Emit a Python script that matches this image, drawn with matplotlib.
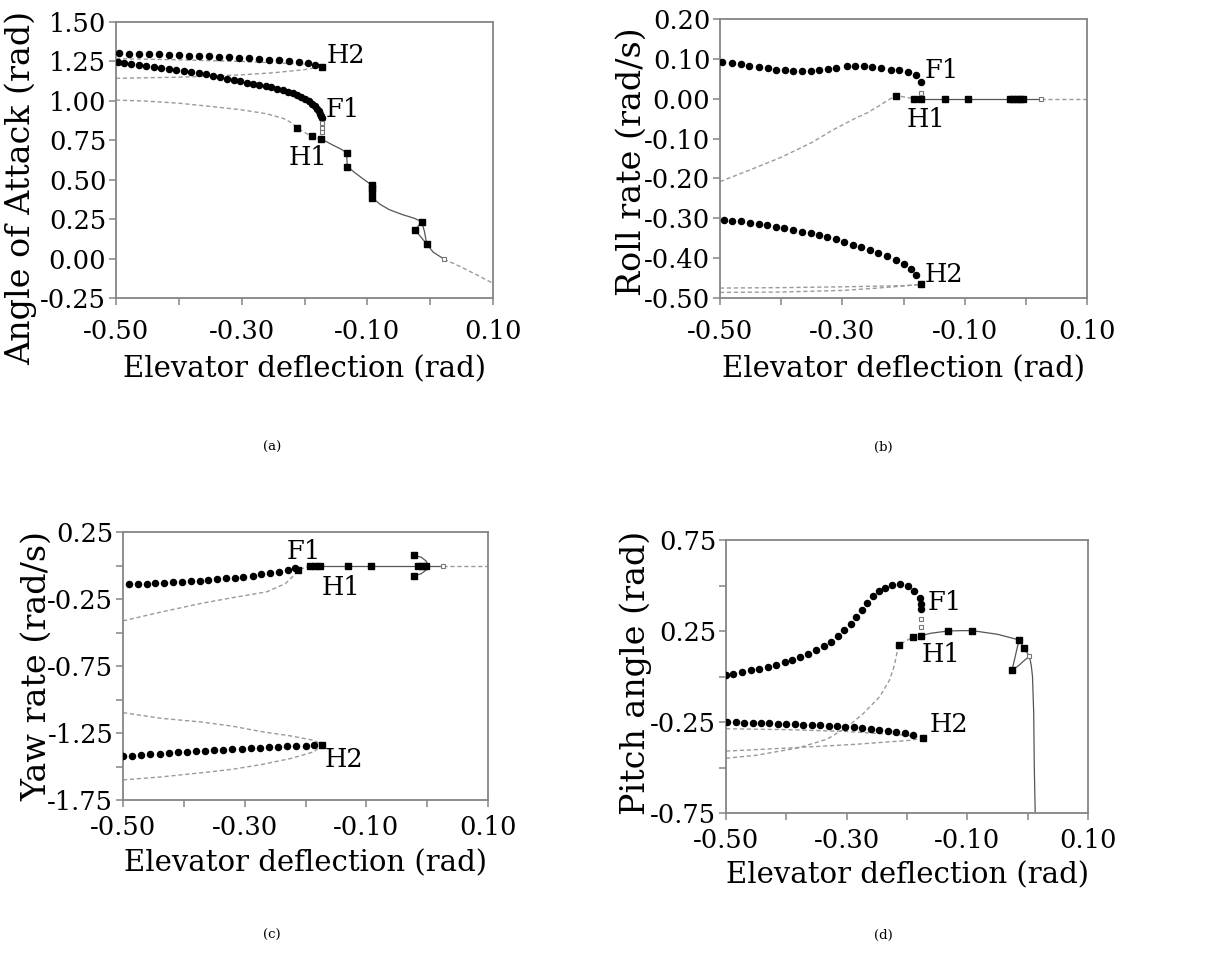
import matplotlib
matplotlib.use("Agg")
import matplotlib.pyplot as plt
import matplotlib.font_manager as fm
from matplotlib.ticker import FixedLocator, FixedFormatter

plt.rcParams['font.family'] = ['DejaVu Serif']
plt.rcParams['axes.unicode_minus'] = False

# ---------------- shared axis text ----------------
x_label = "Elevator deflection (rad)"
x_major = [-0.50, -0.30, -0.10, 0.10]
x_major_labels = ["-0.50", "-0.30", "-0.10", "0.10"]
x_minor = [-0.40, -0.20, 0.00]

# ---------------- panel (a) : angle of attack ----------------
a_ylabel = "Angle of Attack (rad)"
a_yticks = [1.50, 1.25, 1.00, 0.75, 0.50, 0.25, 0.00, -0.25]
a_yticklabels = ["1.50", "1.25", "1.00", "0.75", "0.50", "0.25", "0.00", "-0.25"]
a_h2_dots_x = [-0.496, -0.480, -0.464, -0.448, -0.432, -0.416, -0.400, -0.384, -0.368, -0.352,
               -0.336, -0.320, -0.304, -0.288, -0.272, -0.256, -0.240, -0.224, -0.208, -0.194, -0.183]
a_h2_dots_y = [1.302, 1.300, 1.298, 1.296, 1.294, 1.292, 1.290, 1.287, 1.285, 1.282,
               1.280, 1.277, 1.274, 1.270, 1.266, 1.261, 1.256, 1.250, 1.244, 1.238, 1.230]
a_f1_dots_x = [-0.497, -0.488, -0.476, -0.464, -0.452, -0.440, -0.428, -0.416, -0.404, -0.392,
               -0.380, -0.368, -0.356, -0.345, -0.334, -0.323, -0.312, -0.302, -0.292, -0.282,
               -0.272, -0.262, -0.253, -0.244, -0.235, -0.227, -0.219, -0.212, -0.205, -0.199,
               -0.193, -0.188, -0.184, -0.180, -0.177, -0.175, -0.173, -0.172]
a_f1_dots_y = [1.248, 1.243, 1.236, 1.229, 1.222, 1.215, 1.208, 1.202, 1.196, 1.190,
               1.184, 1.176, 1.168, 1.159, 1.150, 1.141, 1.132, 1.124, 1.116, 1.109,
               1.102, 1.095, 1.087, 1.078, 1.068, 1.058, 1.048, 1.036, 1.023, 1.010,
               0.996, 0.982, 0.966, 0.950, 0.934, 0.918, 0.904, 0.892]
a_h2_max_x = [-0.500, -0.400, -0.300, -0.200, -0.172]
a_h2_max_y = [1.268, 1.260, 1.250, 1.233, 1.217]
a_h2_min_x = [-0.500, -0.400, -0.300, -0.250, -0.200, -0.172]
a_h2_min_y = [1.143, 1.150, 1.165, 1.178, 1.198, 1.217]
a_h1_dash_x = [-0.500, -0.450, -0.400, -0.350, -0.300, -0.260, -0.234, -0.220, -0.212, -0.190, -0.173]
a_h1_dash_y = [1.005, 0.998, 0.985, 0.965, 0.943, 0.918, 0.889, 0.860, 0.828, 0.777, 0.758]
a_stable_x = [-0.173, -0.155, -0.140, -0.133, -0.132, -0.120, -0.105, -0.093, -0.092,
              -0.080, -0.065, -0.045, -0.025, -0.0135, -0.009, -0.0055, 0.005, 0.022]
a_stable_y = [0.758, 0.720, 0.690, 0.670, 0.585, 0.545, 0.500, 0.466, 0.385,
              0.345, 0.310, 0.280, 0.255, 0.234, 0.170, 0.092, 0.040, -0.003]
a_loop_x = [-0.0135, -0.024, -0.0055]
a_loop_y = [0.234, 0.181, 0.092]
a_unstable_x = [0.022, 0.050, 0.075, 0.100]
a_unstable_y = [-0.003, -0.055, -0.105, -0.157]
a_sq_x = [-0.212, -0.188, -0.173, -0.133, -0.132, -0.093, -0.093, -0.092, -0.092,
          -0.0135, -0.024, -0.0055, -0.172]
a_sq_y = [0.828, 0.777, 0.758, 0.670, 0.582, 0.466, 0.445, 0.424, 0.385,
          0.234, 0.181, 0.092, 1.217]
a_open_x = [-0.172, -0.172, -0.172, 0.022]
a_open_y = [0.860, 0.830, 0.800, -0.003]
a_text = ["H2", "F1", "H1"]
a_text_x = [-0.164, -0.167, -0.226]
a_text_y = [1.29, 0.948, 0.641]

# ---------------- panel (b) : roll rate ----------------
b_ylabel = "Roll rate (rad/s)"
b_yticks = [0.20, 0.10, 0.00, -0.10, -0.20, -0.30, -0.40, -0.50]
b_yticklabels = ["0.20", "0.10", "0.00", "-0.10", "-0.20", "-0.30", "-0.40", "-0.50"]
b_f1_dots_x = [-0.496, -0.480, -0.466, -0.452, -0.436, -0.422, -0.408, -0.394, -0.380, -0.366,
               -0.352, -0.338, -0.324, -0.310, -0.293, -0.279, -0.265, -0.251, -0.237, -0.221,
               -0.207, -0.193, -0.180, -0.172]
b_f1_dots_y = [0.093, 0.089, 0.086, 0.083, 0.080, 0.076, 0.073, 0.071, 0.069, 0.069,
               0.069, 0.071, 0.074, 0.078, 0.082, 0.083, 0.082, 0.079, 0.076, 0.073,
               0.071, 0.067, 0.059, 0.041]
b_h2_dots_x = [-0.494, -0.481, -0.465, -0.451, -0.437, -0.423, -0.409, -0.395, -0.380, -0.366,
               -0.352, -0.338, -0.325, -0.311, -0.297, -0.283, -0.269, -0.255, -0.241, -0.227,
               -0.213, -0.200, -0.188, -0.179]
b_h2_dots_y = [-0.304, -0.306, -0.308, -0.311, -0.314, -0.318, -0.322, -0.325, -0.329, -0.334,
               -0.338, -0.343, -0.348, -0.353, -0.360, -0.366, -0.373, -0.380, -0.386, -0.395,
               -0.404, -0.415, -0.427, -0.443]
b_h2_a_x = [-0.500, -0.400, -0.300, -0.200, -0.172]
b_h2_a_y = [-0.475, -0.474, -0.472, -0.469, -0.466]
b_h2_b_x = [-0.500, -0.400, -0.300, -0.250, -0.200, -0.172]
b_h2_b_y = [-0.486, -0.485, -0.481, -0.476, -0.470, -0.466]
b_h1_dash_x = [-0.500, -0.450, -0.400, -0.350, -0.315, -0.280, -0.260, -0.240, -0.228, -0.2125, -0.183, -0.172]
b_h1_dash_y = [-0.208, -0.178, -0.147, -0.110, -0.078, -0.050, -0.036, -0.018, -0.006, 0.008, 0.000, 0.000]
b_stable_x = [-0.172, 0.024]
b_stable_y = [0.000, 0.000]
b_unstable_x = [0.024, 0.100]
b_unstable_y = [0.000, 0.000]
b_sq_x = [-0.2125, -0.183, -0.172, -0.1325, -0.094, -0.026, -0.021, -0.015, -0.010, -0.004, -0.172]
b_sq_y = [0.008, 0.000, 0.000, 0.000, 0.000, 0.000, 0.000, 0.000, 0.000, 0.000, -0.466]
b_open_x = [-0.172, 0.024]
b_open_y = [0.015, 0.000]
b_text = ["F1", "H1", "H2"]
b_text_x = [-0.165, -0.195, -0.165]
b_text_y = [0.070, -0.051, -0.440]

# ---------------- panel (c) : yaw rate ----------------
c_ylabel = "Yaw rate (rad/s)"
c_yticks = [0.25, -0.25, -0.75, -1.25, -1.75]
c_yticklabels = ["0.25", "-0.25", "-0.75", "-1.25", "-1.75"]
c_yminor = [0.00, -0.50, -1.00, -1.50]
c_f1_dots_x = [-0.490, -0.476, -0.461, -0.447, -0.432, -0.418, -0.403, -0.389, -0.374, -0.360,
               -0.345, -0.331, -0.316, -0.302, -0.287, -0.273, -0.258, -0.244, -0.229, -0.218]
c_f1_dots_y = [-0.140, -0.138, -0.135, -0.132, -0.129, -0.126, -0.122, -0.118, -0.113, -0.108,
               -0.103, -0.097, -0.090, -0.083, -0.075, -0.066, -0.057, -0.046, -0.034, -0.022]
c_h1_dash_x = [-0.500, -0.440, -0.373, -0.320, -0.264, -0.233, -0.219, -0.212, -0.192]
c_h1_dash_y = [-0.413, -0.350, -0.284, -0.240, -0.197, -0.135, -0.073, -0.035, 0.000]
c_h2_dots_x = [-0.500, -0.485, -0.470, -0.455, -0.440, -0.425, -0.410, -0.395, -0.380, -0.365,
               -0.350, -0.335, -0.320, -0.305, -0.290, -0.275, -0.260, -0.245, -0.230, -0.215,
               -0.200, -0.186]
c_h2_dots_y = [-1.424, -1.419, -1.414, -1.409, -1.404, -1.399, -1.395, -1.391, -1.387, -1.383,
               -1.379, -1.375, -1.371, -1.367, -1.363, -1.359, -1.355, -1.352, -1.349, -1.346,
               -1.344, -1.342]
c_h2_up_x = [-0.500, -0.438, -0.367, -0.319, -0.272, -0.224, -0.186, -0.173]
c_h2_up_y = [-1.098, -1.140, -1.170, -1.200, -1.240, -1.272, -1.305, -1.337]
c_h2_lo_x = [-0.500, -0.438, -0.367, -0.319, -0.272, -0.224, -0.186, -0.173]
c_h2_lo_y = [-1.600, -1.578, -1.545, -1.520, -1.485, -1.440, -1.390, -1.340]
c_stable_x = [-0.192, 0.026]
c_stable_y = [0.000, 0.000]
c_loop_x = [-0.022, -0.010, -0.002, 0.002, -0.002, -0.010, -0.022]
c_loop_y = [0.076, 0.062, 0.035, 0.000, -0.035, -0.062, -0.078]
c_unstable_x = [0.026, 0.100]
c_unstable_y = [0.000, 0.000]
c_sq_x = [-0.212, -0.192, -0.184, -0.176, -0.130, -0.092, -0.022, -0.022, -0.015, -0.008, -0.002, -0.173]
c_sq_y = [-0.035, 0.000, 0.000, 0.000, 0.000, 0.000, 0.076, -0.078, 0.000, 0.000, 0.000, -1.339]
c_open_x = [0.026]
c_open_y = [0.000]
c_text = ["F1", "H1", "H2"]
c_text_x = [-0.231, -0.173, -0.168]
c_text_y = [0.102, -0.162, -1.451]

# ---------------- panel (d) : pitch angle ----------------
d_ylabel = "Pitch angle (rad)"
d_yticks = [0.75, 0.25, -0.25, -0.75]
d_yticklabels = ["0.75", "0.25", "-0.25", "-0.75"]
d_yminor = [0.50, 0.00, -0.50]
d_f1_dots_x = [-0.500, -0.488, -0.474, -0.459, -0.445, -0.431, -0.417, -0.403, -0.390, -0.377,
               -0.364, -0.351, -0.338, -0.326, -0.314, -0.304, -0.293, -0.284, -0.275, -0.266,
               -0.256, -0.246, -0.236, -0.225, -0.212, -0.199, -0.188, -0.179, -0.176, -0.176]
d_f1_dots_y = [0.008, 0.016, 0.025, 0.036, 0.043, 0.052, 0.064, 0.078, 0.088, 0.106,
               0.125, 0.145, 0.168, 0.192, 0.223, 0.258, 0.290, 0.328, 0.368, 0.405,
               0.441, 0.468, 0.488, 0.503, 0.508, 0.498, 0.470, 0.430, 0.400, 0.372]
d_h1_dash_x = [-0.500, -0.450, -0.380, -0.333, -0.300, -0.273, -0.245, -0.229, -0.221, -0.217,
               -0.213, -0.190, -0.176]
d_h1_dash_y = [-0.449, -0.433, -0.392, -0.345, -0.280, -0.205, -0.110, -0.020, 0.060, 0.125,
               0.175, 0.217, 0.225]
d_h2_dots_x = [-0.498, -0.484, -0.470, -0.456, -0.442, -0.428, -0.414, -0.400, -0.386, -0.372,
               -0.358, -0.344, -0.330, -0.316, -0.302, -0.288, -0.274, -0.260, -0.246, -0.232,
               -0.218, -0.204, -0.190]
d_h2_dots_y = [-0.250, -0.252, -0.253, -0.255, -0.256, -0.258, -0.259, -0.261, -0.263, -0.265,
               -0.267, -0.269, -0.271, -0.273, -0.276, -0.279, -0.283, -0.287, -0.292, -0.298,
               -0.305, -0.313, -0.322]
d_h2_up_x = [-0.500, -0.400, -0.300, -0.200, -0.173]
d_h2_up_y = [-0.287, -0.292, -0.302, -0.323, -0.338]
d_h2_lo_x = [-0.500, -0.380, -0.287, -0.200, -0.173]
d_h2_lo_y = [-0.410, -0.390, -0.373, -0.352, -0.340]
d_stable_x = [-0.176, -0.160, -0.132, -0.110, -0.092, -0.050, -0.0143, -0.006, 0.003,
              0.006, 0.008, 0.010, 0.011, 0.0125]
d_stable_y = [0.225, 0.238, 0.250, 0.252, 0.252, 0.232, 0.201, 0.156, 0.110,
              0.060, 0.000, -0.200, -0.500, -0.750]
d_loop_x = [-0.0143, -0.026, -0.015, -0.005, 0.003]
d_loop_y = [0.201, 0.033, 0.060, 0.090, 0.110]
d_sq_x = [-0.213, -0.190, -0.176, -0.132, -0.092, -0.0143, -0.006, -0.026, -0.173]
d_sq_y = [0.175, 0.217, 0.225, 0.252, 0.252, 0.201, 0.156, 0.033, -0.338]
d_open_x = [-0.176, -0.176, 0.003]
d_open_y = [0.318, 0.272, 0.110]
d_text = ["F1", "H1", "H2"]
d_text_x = [-0.166, -0.175, -0.162]
d_text_y = [0.404, 0.119, -0.265]

captions = ["(a)", "(b)", "(c)", "(d)"]

# ---------------- fonts ----------------
TICKFP = fm.FontProperties(family="DejaVu Serif", size=18.5)

# ---------------- drawing ----------------
W, H = 1221, 967
fig = plt.figure(figsize=(W / 100, H / 100), dpi=100)

def rect(l, r, t, b):
    return [l / W, 1 - b / H, (r - l) / W, (b - t) / H]

SPINE = "#858585"
DASH = dict(color="#9a9a9a", lw=1.0, ls=(0, (3, 2)), zorder=2)
SOLID = dict(color="#555555", lw=0.9, zorder=2)
DOT = dict(ls="none", marker="o", ms=4.4, mfc="black", mec="black", zorder=4)
SQ = dict(ls="none", marker="s", ms=4.6, mfc="black", mec="black", zorder=5)
OPEN = dict(ls="none", marker="s", ms=3.5, mfc="white", mec="#777777", mew=0.8, zorder=5)
XLFS = 21
YLFS = 24

def style(ax, yt, ytl, ylab, ylim, ylab_pos, ymin=None, xpad=10, xlpad=4):
    ax.set_xlim(-0.5, 0.1)
    ax.set_ylim(*ylim)
    ax.xaxis.set_major_locator(FixedLocator(x_major))
    ax.xaxis.set_major_formatter(FixedFormatter(x_major_labels))
    ax.xaxis.set_minor_locator(FixedLocator(x_minor))
    ax.yaxis.set_major_locator(FixedLocator(yt))
    ax.yaxis.set_major_formatter(FixedFormatter(ytl))
    if ymin is not None:
        ax.yaxis.set_minor_locator(FixedLocator(ymin))
    for s in ax.spines.values():
        s.set_color(SPINE)
        s.set_linewidth(1.3)
    ax.tick_params(axis="both", which="both", direction="out", length=5, width=1.1,
                   color=SPINE)
    ax.tick_params(axis="x", which="both", pad=xpad)
    ax.tick_params(axis="y", which="both", pad=2)
    ax.tick_params(top=False, right=False)
    for lbl in ax.get_xticklabels() + ax.get_yticklabels():
        lbl.set_fontproperties(TICKFP)
    ax.set_xlabel(x_label, fontsize=XLFS, labelpad=xlpad)
    ax.set_ylabel(ylab, fontsize=YLFS)
    ax.yaxis.set_label_coords(*ylab_pos)

def labels(ax, txt, tx, ty):
    for t, x, y in zip(txt, tx, ty):
        ax.text(x, y, t, fontproperties=TICKFP, va="center", ha="left", zorder=6)

# (a)
axa = fig.add_axes(rect(116, 493, 22, 298))
axa.plot(a_h2_max_x, a_h2_max_y, **DASH)
axa.plot(a_h2_min_x, a_h2_min_y, **DASH)
axa.plot(a_h1_dash_x, a_h1_dash_y, **DASH)
axa.plot(a_unstable_x, a_unstable_y, **DASH)
axa.plot(a_stable_x, a_stable_y, **SOLID)
axa.plot(a_loop_x, a_loop_y, **SOLID)
axa.plot(a_h2_dots_x, a_h2_dots_y, **DOT)
axa.plot(a_f1_dots_x, a_f1_dots_y, **DOT)
axa.plot(a_sq_x, a_sq_y, **SQ)
axa.plot(a_open_x, a_open_y, **OPEN)
labels(axa, a_text, a_text_x, a_text_y)
style(axa, a_yticks, a_yticklabels, a_ylabel, (-0.25, 1.5), (-0.21, 0.40), xpad=10, xlpad=8)

# (b)
axb = fig.add_axes(rect(720, 1087, 19, 298))
axb.plot(b_h2_a_x, b_h2_a_y, **DASH)
axb.plot(b_h2_b_x, b_h2_b_y, **DASH)
axb.plot(b_h1_dash_x, b_h1_dash_y, **DASH)
axb.plot(b_unstable_x, b_unstable_y, **DASH)
axb.plot(b_stable_x, b_stable_y, **SOLID)
axb.plot(b_f1_dots_x, b_f1_dots_y, **DOT)
axb.plot(b_h2_dots_x, b_h2_dots_y, **DOT)
axb.plot(b_sq_x, b_sq_y, **SQ)
axb.plot(b_open_x, b_open_y, **OPEN)
labels(axb, b_text, b_text_x, b_text_y)
style(axb, b_yticks, b_yticklabels, b_ylabel, (-0.5, 0.2), (-0.196, 0.487), xpad=10, xlpad=8.5)

# (c)
axc = fig.add_axes(rect(123, 488, 532, 800))
axc.plot(c_h1_dash_x, c_h1_dash_y, **DASH)
axc.plot(c_h2_up_x, c_h2_up_y, **DASH)
axc.plot(c_h2_lo_x, c_h2_lo_y, **DASH)
axc.plot(c_unstable_x, c_unstable_y, **DASH)
axc.plot(c_stable_x, c_stable_y, **SOLID)
axc.plot(c_loop_x, c_loop_y, **SOLID)
axc.plot(c_f1_dots_x, c_f1_dots_y, **DOT)
axc.plot(c_h2_dots_x, c_h2_dots_y, **DOT)
axc.plot(c_sq_x, c_sq_y, **SQ)
axc.plot(c_open_x, c_open_y, **OPEN)
labels(axc, c_text, c_text_x, c_text_y)
style(axc, c_yticks, c_yticklabels, c_ylabel, (-1.75, 0.25), (-0.192, 0.5), ymin=c_yminor, xpad=6, xlpad=6.5)

# (d)
axd = fig.add_axes(rect(726, 1088, 540, 813))
axd.plot(d_h1_dash_x, d_h1_dash_y, **DASH)
axd.plot(d_h2_up_x, d_h2_up_y, **DASH)
axd.plot(d_h2_lo_x, d_h2_lo_y, **DASH)
axd.plot(d_stable_x, d_stable_y, **SOLID)
axd.plot(d_loop_x, d_loop_y, **SOLID)
axd.plot(d_f1_dots_x, d_f1_dots_y, **DOT)
axd.plot(d_h2_dots_x, d_h2_dots_y, **DOT)
axd.plot(d_sq_x, d_sq_y, **SQ)
axd.plot(d_open_x, d_open_y, **OPEN)
labels(axd, d_text, d_text_x, d_text_y)
style(axd, d_yticks, d_yticklabels, d_ylabel, (-0.75, 0.75), (-0.204, 0.513), ymin=d_yminor, xpad=6, xlpad=6)

for cap, (cx, cy) in zip(captions, [(272, 447), (883, 447), (272, 935), (883, 935)]):
    fig.text(cx / W, 1 - cy / H, cap, fontsize=9.5, ha="center", va="center")

fig.savefig("out.png", dpi=100)
